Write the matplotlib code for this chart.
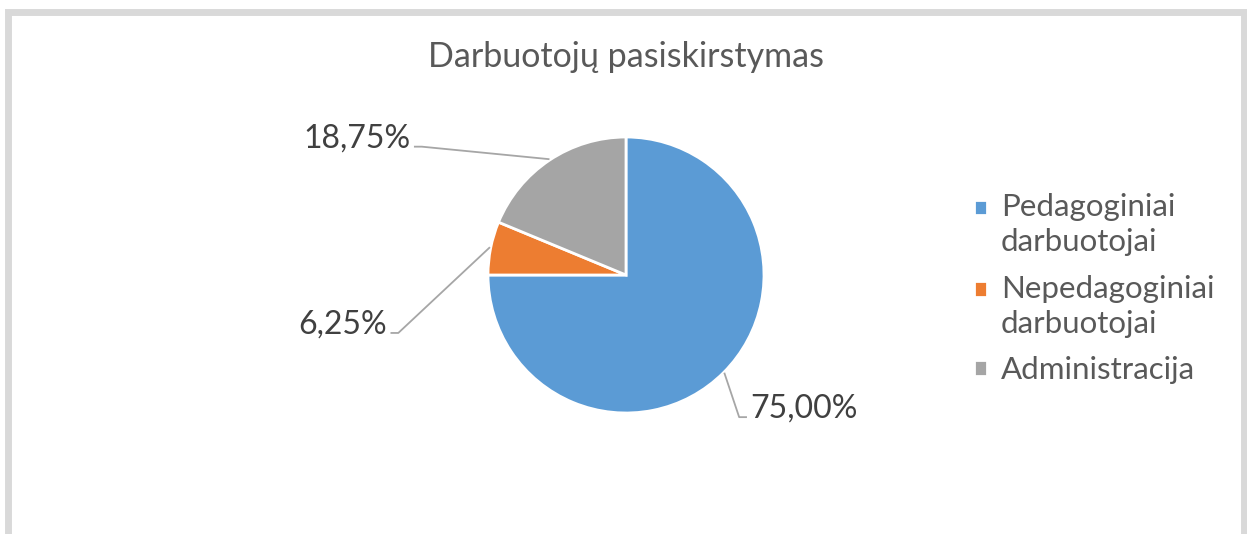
import matplotlib
matplotlib.use("Agg")
import matplotlib.pyplot as plt
from matplotlib.legend_handler import HandlerPatch
from matplotlib.patches import Rectangle
import numpy as np

plt.rcParams["font.family"] = ["Lato", "DejaVu Sans"]

title = "Darbuotojų pasiskirstymas"
categories = ["Pedagoginiai\ndarbuotojai", "Nepedagoginiai\ndarbuotojai", "Administracija"]
shares = [75.00, 6.25, 18.75]
colors = ["#5B9BD5", "#ED7D31", "#A5A5A5"]
text_color = "#595959"

W, H = 1247, 534
fig = plt.figure(figsize=(W / 100, H / 100), dpi=100)

# chart frame (light grey border, bottom cut off)
frame = Rectangle((8 / W, -0.05), 1236 / W, 1.05 - 12 / H,
                  transform=fig.transFigure, fill=False, edgecolor="#D9D9D9", lw=5)
fig.patches.append(frame)

cx, cy, r = 626, 275, 138
ax = fig.add_axes([(cx - r) / W, (H - cy - r) / H, 2 * r / W, 2 * r / H])
wedges, _ = ax.pie(shares, colors=colors, startangle=90, counterclock=False,
                   wedgeprops=dict(edgecolor="white", linewidth=2))
ax.set_xlim(-1, 1)
ax.set_ylim(-1, 1)
ax.set_aspect("equal")
ax.axis("off")

# label positions (in radius units) for each slice
label_pos = [(0.90, -1.03, "left"), (-1.73, -0.42, "right"), (-1.56, 0.93, "right")]
for w, v, (lx, ly, ha) in zip(wedges, shares, label_pos):
    ang = np.deg2rad((w.theta1 + w.theta2) / 2)
    ex, ey = np.cos(ang), np.sin(ang)
    if ha == "left":
        pts_x = [ex * 1.01, lx - 0.08, lx - 0.03]
    else:
        pts_x = [ex * 1.01, lx + 0.08, lx + 0.03]
    pts_y = [ey * 1.01, ly, ly]
    ax.plot(pts_x, pts_y, color="#A6A6A6", lw=1.3, clip_on=False)
    ax.text(lx, ly + 0.06, f"{v:.2f}%".replace(".", ","), ha=ha, va="center",
            fontsize=23, color="#404040", clip_on=False)

fig.text(cx / W, 1 - 57 / H, title, ha="center", va="center",
         fontsize=24.5, color=text_color)


# legend squares sit next to the first line of a wrapped label
def top_square(n_lines):
    def make(legend, orig_handle, xdescent, ydescent, width, height, fontsize):
        shift = (n_lines - 1) * 0.56 * fontsize
        return Rectangle((-xdescent, -ydescent + shift), width, height)
    return HandlerPatch(patch_func=make)


hmap = {w: top_square(lab.count("\n") + 1) for w, lab in zip(wedges, categories)}
leg = fig.legend(wedges, categories, loc="upper left", bbox_to_anchor=(946 / W, 1 - 165 / H),
                 frameon=False, fontsize=22.5, labelcolor=text_color, handlelength=0.4,
                 handleheight=0.4, handletextpad=0.45, labelspacing=0.6, handler_map=hmap)
for t in leg.get_texts():
    t.set_linespacing(1.3)

fig.savefig("out.png", dpi=100, facecolor="white")
